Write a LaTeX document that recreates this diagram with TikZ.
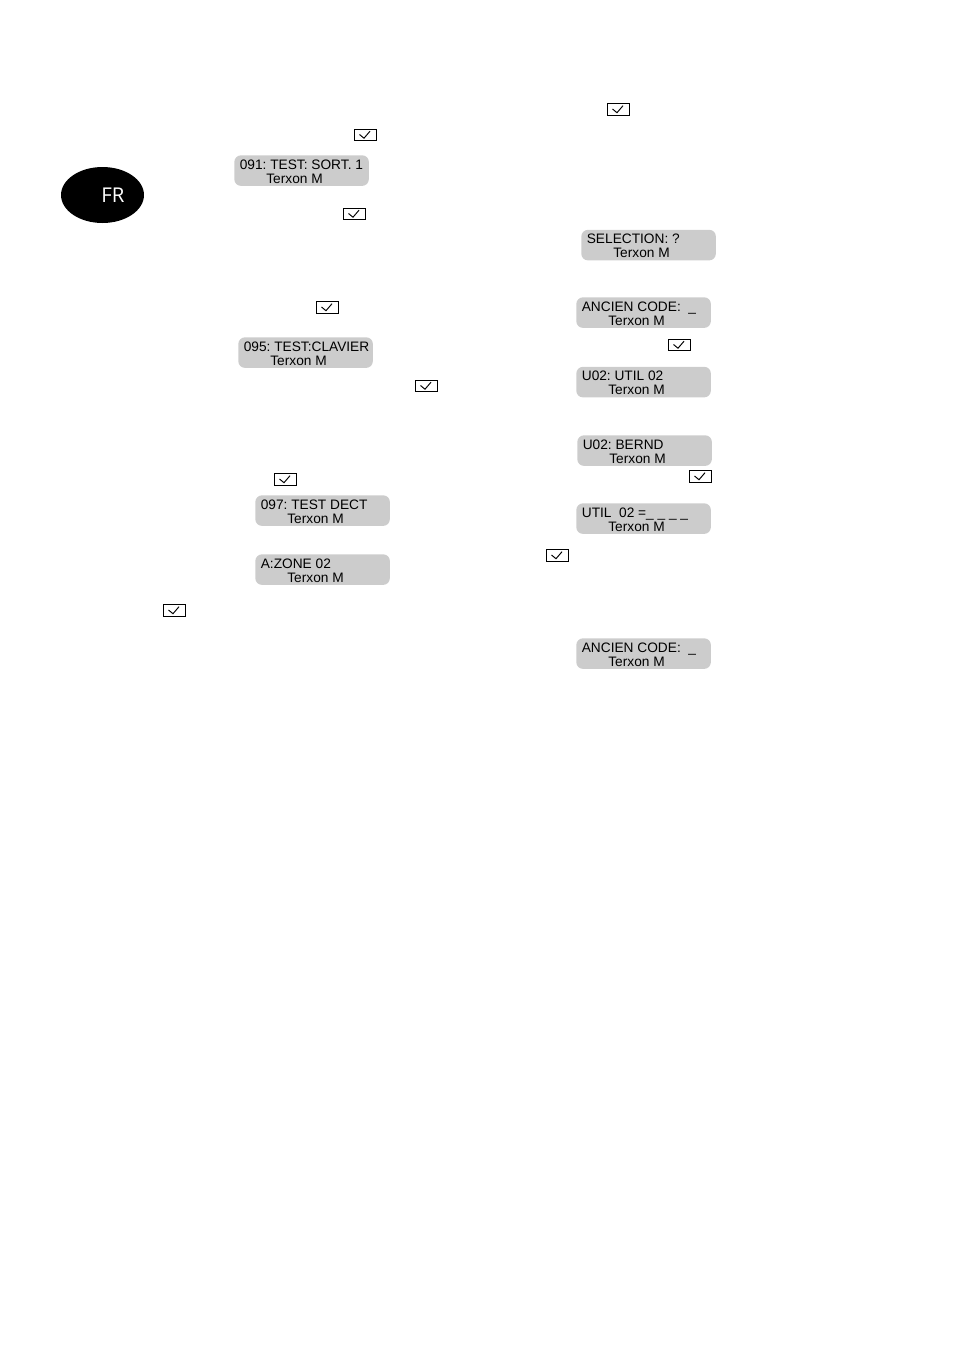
\documentclass[tikz,border=0pt]{standalone}
\usepackage{fontspec}
\usetikzlibrary{shapes.geometric}
\setmainfont{Liberation Sans}
\newfontfamily\badgefont{Open Sans}
\frenchspacing
\definecolor{screengray}{RGB}{204,204,204}
\tikzset{
  screenbox/.style={fill=screengray,rounded corners=1.3mm,minimum width=2.69cm,minimum height=0.61cm,inner sep=0pt,anchor=north west},
  screentext/.style={inner sep=0pt,anchor=base west,font=\fontsize{7.8pt}{9pt}\selectfont,text=black},
  tickbox/.style={draw,line width=0.5pt,minimum width=0.45cm,minimum height=0.23cm,inner sep=0pt},
  tickmark/.style={line width=0.55pt}
}
\newcommand{\lcdscreen}[5]{
  \node[screenbox] (#1) at (#2,#3) {};
  \node[screentext] (#1top) at (#2+5.5,#3+14.4) {#4};
  \node[screentext] (#1low) at (#2+32,#3+28.2) {#5};
}
\newcommand{\tickicon}[3]{
  \node[tickbox] (#1) at (#2,#3) {};
  \draw[tickmark] (#2-6,#3-0.5)--++(4.5,3.7)--++(6,-7);
}
\begin{document}
\begin{tikzpicture}[x=0.02cm,y=-0.02cm]
\useasboundingbox (0,0) rectangle (954,1350);
\node[fill=black,ellipse,minimum width=1.66cm,minimum height=1.12cm,inner sep=0pt] (badge) at (102.5,195) {};
\node[text=white,inner sep=0pt,font=\badgefont\fontsize{11.6pt}{13pt}\selectfont] (badgetext) at (113,195.5) {FR};
% left column
\tickicon{tickA}{365.5}{135}
\lcdscreen{sortie}{234}{155}{091: TEST: SORT. 1}{Terxon M}
\tickicon{tickB}{354.5}{214}
\tickicon{tickC}{327.5}{307.5}
\lcdscreen{clavier}{238}{337}{095: TEST:CLAVIER}{Terxon M}
\tickicon{tickD}{426.5}{386}
\tickicon{tickE}{285.5}{479.5}
\lcdscreen{dect}{255}{495}{097: TEST DECT}{Terxon M}
\lcdscreen{zone}{255}{554}{A:ZONE 02}{Terxon M}
\tickicon{tickF}{174.5}{610.5}
% right column
\tickicon{tickG}{618.5}{109.5}
\lcdscreen{selection}{581}{229.5}{SELECTION: ?}{Terxon M}
\lcdscreen{ancienA}{576}{297}{ANCIEN CODE:\ \ \_}{Terxon M}
\tickicon{tickH}{679.5}{345}
\lcdscreen{utilA}{576}{366.5}{U02: UTIL 02}{Terxon M}
\lcdscreen{bernd}{577}{435}{U02: BERND}{Terxon M}
\tickicon{tickI}{700.5}{476.5}
\lcdscreen{utilB}{576}{503}{UTIL\ \ 02 =\_ \_ \_ \_}{Terxon M}
\tickicon{tickJ}{557.5}{555.5}
\lcdscreen{ancienB}{576}{638}{ANCIEN CODE:\ \ \_}{Terxon M}
\end{tikzpicture}
\end{document}
